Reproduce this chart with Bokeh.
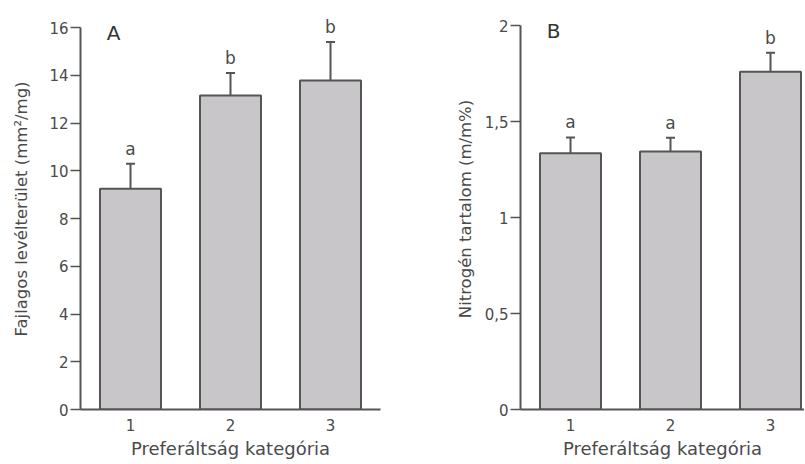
from bokeh.plotting import figure
from bokeh.layouts import row
from bokeh.models import FixedTicker, Whisker, ColumnDataSource, TeeHead, Range1d
from bokeh.core.properties import value
from bokeh.embed import file_html
from bokeh.resources import INLINE

categories = [1, 2, 3]
cat_labels = ["1", "2", "3"]

a_values = [9.25, 13.15, 13.78]
a_errors = [1.05, 0.95, 1.62]
a_letters = ["a", "b", "b"]
a_ticks = [0, 2, 4, 6, 8, 10, 12, 14, 16]
a_tick_labels = ["0", "2", "4", "6", "8", "10", "12", "14", "16"]

b_values = [1.335, 1.345, 1.76]
b_errors = [0.083, 0.072, 0.10]
b_letters = ["a", "a", "b"]
b_ticks = [0, 0.5, 1, 1.5, 2]
b_tick_labels = ["0", "0,5", "1", "1,5", "2"]

FONT = "DejaVu Sans"
TXT = "#4a4a4a"
LINE = "#555555"
FILL = "#c9c6c9"


def panel(vals, errs, letters, ticks, tick_labels, ymax, ytop, xend, ylabel, tag,
          width, left, right, label_standoff):
    p = figure(width=width, height=463, output_backend="svg", toolbar_location=None,
               x_range=Range1d(0.5, xend), y_range=Range1d(0, ytop),
               min_border_left=left, min_border_right=right,
               min_border_top=8, min_border_bottom=54)
    p.outline_line_color = None
    p.grid.visible = False
    p.background_fill_color = "white"
    p.border_fill_color = "white"

    upper = [v + e for v, e in zip(vals, errs)]
    src = ColumnDataSource(dict(x=categories, top=vals, upper=upper, lab=letters))

    p.vbar(x="x", top="top", bottom=0, width=0.61, source=src,
           fill_color=FILL, line_color=LINE, line_width=2)
    w = Whisker(base="x", lower="top", upper="upper", source=src,
                line_color=LINE, line_width=2,
                upper_head=TeeHead(size=9, line_color=LINE, line_width=2),
                lower_head=None)
    p.add_layout(w)
    p.text(x="x", y="upper", text="lab", source=src, y_offset=-15,
           text_align="center", text_baseline="middle", text_font=value(FONT),
           text_font_size="17px", text_color=TXT)

    # y axis
    ya = p.yaxis[0]
    ya.ticker = FixedTicker(ticks=ticks)
    ya.major_label_overrides = {t: l for t, l in zip(ticks, tick_labels)}
    ya.bounds = (0, ymax)
    ya.minor_tick_line_color = None
    ya.major_tick_out = 10
    ya.major_tick_in = 0
    ya.major_label_standoff = 2
    ya.axis_line_color = LINE
    ya.axis_line_width = 2
    ya.major_tick_line_color = LINE
    ya.major_tick_line_width = 1.5
    ya.major_label_text_font = FONT
    ya.major_label_text_font_size = "15px"
    ya.major_label_text_color = TXT
    ya.axis_label = ylabel
    ya.axis_label_text_font = FONT
    ya.axis_label_text_font_size = "16.5px"
    ya.axis_label_text_font_style = "normal"
    ya.axis_label_text_color = TXT
    ya.axis_label_standoff = label_standoff

    # x axis
    xa = p.xaxis[0]
    xa.ticker = FixedTicker(ticks=categories)
    xa.major_label_overrides = {c: l for c, l in zip(categories, cat_labels)}
    xa.minor_tick_line_color = None
    xa.major_tick_line_color = None
    xa.major_tick_out = 0
    xa.major_tick_in = 0
    xa.major_label_standoff = 9
    xa.axis_line_color = LINE
    xa.axis_line_width = 2
    xa.major_label_text_font = FONT
    xa.major_label_text_font_size = "15px"
    xa.major_label_text_color = TXT
    xa.axis_label = "Preferáltság kategória"
    xa.axis_label_text_font = FONT
    xa.axis_label_text_font_size = "18px"
    xa.axis_label_text_font_style = "normal"
    xa.axis_label_text_color = TXT
    xa.axis_label_standoff = 4

    # panel tag
    p.text(x=[0.83], y=[ymax], text=[tag], y_offset=5, text_align="center",
           text_baseline="middle", text_font=value(FONT), text_font_size="20px",
           text_color="#333333")
    return p


pa = panel(a_values, a_errors, a_letters, a_ticks, a_tick_labels, 16, 16.8, 3.5,
           "Fajlagos levélterület (mm²/mg)", "A", 400, 80, 20, 15)
pb = panel(b_values, b_errors, b_letters, b_ticks, b_tick_labels, 2, 2.09, 3.34,
           "Nitrogén tartalom (m/m%)", "B", 404, 120, 0, 7)

layout = row(pa, pb, spacing=0)

open("out.html", "w").write(file_html(layout, INLINE))
